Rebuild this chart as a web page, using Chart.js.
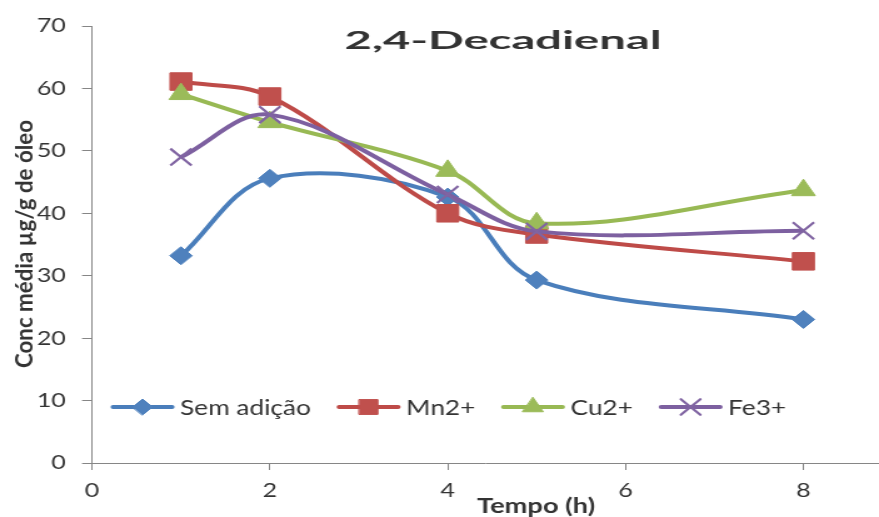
<!DOCTYPE html>
<html>
<head>
<meta charset="utf-8">
<script src="https://cdn.jsdelivr.net/npm/chart.js@4/dist/chart.umd.min.js"></script>
<style>
  html, body { margin: 0; padding: 0; background: #ffffff; overflow: hidden; }
</style>
</head>
<body>
<canvas id="c" width="703" height="517" style="display:block;width:879px;height:517px"></canvas>
<script>
// Tempo (h) at which each sample was measured
const hours = [1, 2, 4, 5, 8];

// Mean 2,4-decadienal concentration (µg/g of oil) per treatment
const semAdicao = [33.2, 45.6, 42.6, 29.3, 23.0];
const mn2 = [61.1, 58.7, 40.0, 36.6, 32.3];
const cu2 = [59.1, 54.6, 46.8, 38.4, 43.7];
const fe3 = [49.0, 55.8, 43.0, 37.1, 37.2];

const seriesNames = ['Sem adição', 'Mn2+', 'Cu2+', 'Fe3+'];
const xTicks = [0, 2, 4, 6, 8];
const yTicks = [0, 10, 20, 30, 40, 50, 60, 70];

const chartTitle = '2,4-Decadienal';
const xTitle = 'Tempo (h)';
const yTitle = 'Conc média µg/g de óleo';

const AXIS = '#868686';
const TEXT = '#333333';

const styles = [
  { line: '#4A7EBB', mark: '#4F81BD', pointStyle: 'rectRot', radius: 9, legendRadius: 8 },
  { line: '#BE4B48', mark: '#C0504D', pointStyle: 'rect', radius: 12.4, legendRadius: 10.5 },
  { line: '#98B954', mark: '#9BBB59', pointStyle: 'triangle', radius: 11, legendRadius: 9.5 },
  { line: '#7D60A0', mark: '#8064A2', pointStyle: 'crossRot', radius: 12, legendRadius: 11 }
];

const values = [semAdicao, mn2, cu2, fe3];

const datasets = values.map((vals, i) => ({
  label: seriesNames[i],
  data: hours.map((h, k) => ({ x: h, y: vals[k] })),
  borderColor: styles[i].line,
  backgroundColor: styles[i].mark,
  borderWidth: 4,
  tension: 0.35,
  pointStyle: styles[i].pointStyle,
  pointRadius: styles[i].radius,
  pointHoverRadius: styles[i].radius,
  pointBackgroundColor: styles[i].mark,
  pointBorderColor: styles[i].mark,
  pointBorderWidth: styles[i].pointStyle === 'crossRot' ? 2.2 : 1,
  order: values.length - i
}));

// Draw text squeezed/stretched horizontally to a given width
function fitText(ctx, text, cx, baseline, width, font, rotate) {
  ctx.save();
  ctx.font = font;
  ctx.fillStyle = TEXT;
  ctx.textAlign = 'center';
  ctx.textBaseline = 'alphabetic';
  const w = ctx.measureText(text).width;
  ctx.translate(cx, baseline);
  if (rotate) ctx.rotate(-Math.PI / 2);
  ctx.scale(width / w, 1);
  ctx.fillText(text, 0, 0);
  ctx.restore();
}

function marker(ctx, style, x, y, r) {
  ctx.save();
  ctx.fillStyle = style.mark;
  ctx.strokeStyle = style.mark;
  ctx.lineWidth = style.pointStyle === 'crossRot' ? 2.2 : 1;
  Chart.helpers.drawPoint(ctx, {
    pointStyle: style.pointStyle, radius: r, rotation: 0,
    borderWidth: ctx.lineWidth
  }, x, y);
  ctx.restore();
}

const decor = {
  id: 'decor',
  afterDatasetsDraw(chart) {
    const ctx = chart.ctx;

    // chart title
    fitText(ctx, chartTitle, 402.3, 48.5, 253.5, 'bold 25px Lato');
    // axis titles
    fitText(ctx, xTitle, 428.7, 513, 94.4, 'bold 21px Lato');
    fitText(ctx, yTitle, 25.6, 244, 248, 'bold 18.5px Lato', true);

    // legend row inside the plot area
    const y = 407;
    let x = 90.4;
    const lineLen = 47.2;
    ctx.save();
    ctx.font = '21px Lato';
    ctx.textBaseline = 'middle';
    ctx.textAlign = 'left';
    seriesNames.forEach((name, i) => {
      const st = styles[i];
      ctx.strokeStyle = st.line;
      ctx.lineWidth = 4;
      ctx.lineCap = 'round';
      ctx.beginPath();
      ctx.moveTo(x, y);
      ctx.lineTo(x + lineLen, y);
      ctx.stroke();
      marker(ctx, st, x + lineLen / 2, y, st.legendRadius);
      const tx = x + lineLen + 6.4;
      ctx.fillStyle = TEXT;
      ctx.fillText(name, tx, y + 1);
      x = tx + ctx.measureText(name).width + 22.5;
    });
    ctx.restore();
  }
};

function pinScale(size, key) {
  return function (scale) {
    scale[key] = size;
    scale.paddingTop = 0;
    scale.paddingBottom = 0;
    scale.paddingLeft = 0;
    scale.paddingRight = 0;
  };
}

new Chart(document.getElementById('c'), {
  type: 'line',
  data: { datasets },
  plugins: [decor],
  options: {
    responsive: false,
    devicePixelRatio: 1,
    animation: false,
    layout: { autoPadding: false, padding: { top: 26, right: 0, bottom: 0, left: 0 } },
    plugins: {
      legend: { display: false },
      title: { display: false },
      tooltip: { enabled: false }
    },
    scales: {
      x: {
        type: 'linear',
        min: 0,
        max: 8.85,
        afterFit: pinScale(54, 'height'),
        afterBuildTicks: (s) => { s.ticks = xTicks.map(v => ({ value: v })); },
        ticks: {
          stepSize: 2,
          includeBounds: false,
          padding: 9,
          color: TEXT,
          font: { family: 'Lato', size: 20 },
          maxRotation: 0
        },
        grid: {
          drawOnChartArea: false,
          drawTicks: true,
          tickLength: 7,
          color: AXIS,
          lineWidth: 1
        },
        border: { display: true, color: AXIS, width: 1 }
      },
      y: {
        min: 0,
        max: 70,
        afterFit: pinScale(73.6, 'width'),
        afterBuildTicks: (s) => { s.ticks = yTicks.map(v => ({ value: v })); },
        ticks: {
          stepSize: 10,
          padding: 13,
          color: TEXT,
          font: { family: 'Lato', size: 20 }
        },
        grid: {
          drawOnChartArea: false,
          drawTicks: true,
          tickLength: 8,
          color: AXIS,
          lineWidth: 1
        },
        border: { display: true, color: AXIS, width: 1 }
      }
    }
  }
});
</script>
</body>
</html>
